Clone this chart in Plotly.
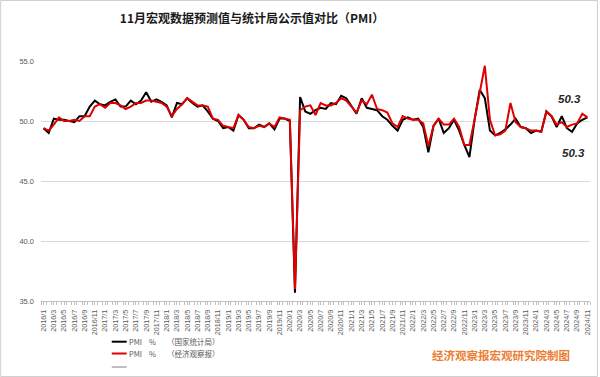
import plotly.graph_objects as go

# ---- data ----
months = [f"{y}/{m}" for y in range(2016, 2025) for m in range(1, 13)][:107]

pmi_nbs = [
    49.4, 49.0, 50.2, 50.1, 50.1, 50.0, 49.9, 50.4, 50.4, 51.2, 51.7, 51.4,
    51.3, 51.6, 51.8, 51.2, 51.2, 51.7, 51.4, 51.7, 52.4, 51.6, 51.8, 51.6,
    51.3, 50.3, 51.5, 51.4, 51.9, 51.5, 51.2, 51.3, 50.8, 50.2, 50.0, 49.4,
    49.5, 49.2, 50.5, 50.1, 49.4, 49.4, 49.7, 49.5, 49.8, 49.3, 50.2, 50.2,
    50.0, 35.7, 52.0, 50.8, 50.6, 50.9, 51.1, 51.0, 51.5, 51.4, 52.1, 51.9,
    51.3, 50.6, 51.9, 51.1, 51.0, 50.9, 50.4, 50.1, 49.6, 49.2, 50.1, 50.3,
    50.1, 50.2, 49.5, 47.4, 49.6, 50.2, 49.0, 49.4, 50.1, 49.2, 48.0, 47.0,
    50.1, 52.6, 51.9, 49.2, 48.8, 49.0, 49.3, 49.7, 50.2, 49.5, 49.4, 49.0,
    49.2, 49.1, 50.8, 50.4, 49.5, 50.4, 49.4, 49.1, 49.8, 50.1, 50.3,
]

pmi_eeo = [
    49.4, 49.2, 49.7, 50.3, 50.0, 50.0, 50.1, 50.0, 50.4, 50.4, 51.2, 51.4,
    51.1, 51.5, 51.5, 51.3, 51.0, 51.2, 51.5, 51.5, 51.7, 51.7, 51.6, 51.5,
    51.2, 50.4, 51.0, 51.4, 51.9, 51.6, 51.3, 51.3, 51.2, 50.2, 50.1, 49.6,
    49.5, 49.4, 50.5, 50.1, 49.5, 49.4, 49.6, 49.5, 49.8, 49.5, 50.3, 50.2,
    50.1, 36.0, 50.9, 51.2, 51.3, 50.5, 51.5, 51.3, 51.3, 51.5, 51.9, 51.7,
    51.2, 50.7, 51.7, 51.4, 52.2, 51.0, 50.9, 50.7, 49.8, 49.5, 50.4, 50.2,
    50.1, 50.1, 49.8, 47.9, 49.6, 50.2, 49.7, 49.7, 50.2, 49.5, 48.0, 48.0,
    50.1, 52.4, 54.6, 50.1, 48.8, 48.9, 49.2, 51.5, 49.9, 49.5, 49.4, 49.2,
    49.2, 49.1, 50.8, 50.4, 49.7, 49.9, 49.5, 49.7, 49.8, 50.6, 50.3,
]

tick_idx = list(range(0, len(months), 2))
tick_labels = months[::2]
y_ticks = [35, 40, 45, 50, 55]

title_text = "11月宏观数据预测值与统计局公示值对比（PMI）"
legend_names = ["（国家统计局）", "（经济观察报）"]
credit = "经济观察报宏观研究院制图"

# ---- layout helpers ----
W, H = 600, 377
ML, MR, MT, MB = 41, 8, 61, 76
PW, PH = W - ML - MR, H - MT - MB


def px2x(px):
    return (px - ML) / PW


def py2y(py):
    return (H - MB - py) / PH


x_idx = list(range(len(months)))

fig = go.Figure()
fig.add_trace(go.Scatter(x=x_idx, y=pmi_nbs, mode="lines",
                         line=dict(color="#000000", width=2),
                         text=months, showlegend=False))
fig.add_trace(go.Scatter(x=x_idx, y=pmi_eeo, mode="lines",
                         line=dict(color="#E00000", width=2),
                         text=months, showlegend=False))

gray = "#595959"
fig.update_layout(
    width=W, height=H,
    margin=dict(l=ML, r=MR, t=MT, b=MB),
    paper_bgcolor="white", plot_bgcolor="white",
    title=dict(text="<b>" + title_text + "</b>", x=252 / W, xanchor="center",
               xref="container", y=1 - 19 / H, yanchor="middle", yref="container",
               font=dict(family="Noto Sans CJK SC", size=12, color="#1a1a1a")),
    xaxis=dict(range=[-0.5, len(months) - 0.5], tickvals=tick_idx, ticktext=tick_labels,
               tickangle=-90, tickfont=dict(family="Liberation Sans", size=7.2, color=gray),
               showgrid=False, zeroline=False, showline=True, linecolor="#BFBFBF", linewidth=1,
               ticks="outside", ticklen=3, tickcolor="#BFBFBF", ticklabelstandoff=2,
               minor=dict(tick0=0.5, dtick=1, ticks="outside", ticklen=3, tickcolor="#BFBFBF", showgrid=False)),
    yaxis=dict(range=[35, 55], tickvals=y_ticks, tickformat=".1f",
               tickfont=dict(family="Liberation Sans", size=7.5, color=gray),
               showgrid=True, gridcolor="#D9D9D9", gridwidth=1, zeroline=False, showline=False,
               ticklabelstandoff=6),
)

# end-point value labels
last = len(months) - 1
fig.add_annotation(x=last, y=pmi_eeo[-1], xref="x", yref="y", text=f"<b><i>{pmi_eeo[-1]:.1f}</i></b>",
                   showarrow=False, xshift=-18, yshift=18,
                   font=dict(family="Liberation Sans", size=11.5, color="#262626"))
fig.add_annotation(x=last, y=pmi_nbs[-1], xref="x", yref="y", text=f"<b><i>{pmi_nbs[-1]:.1f}</i></b>",
                   showarrow=False, xshift=-14, yshift=-36,
                   font=dict(family="Liberation Sans", size=11.5, color="#262626"))

# custom legend
leg = [("#000000", 341.7, legend_names[0]), ("#E00000", 353.5, legend_names[1]), ("#BFBFBF", 367, None)]
for color, py, name in leg:
    fig.add_shape(type="line", xref="paper", yref="paper",
                  x0=px2x(112), x1=px2x(127), y0=py2y(py), y1=py2y(py),
                  line=dict(color=color, width=2))
    if name:
        for txt, px in (("PMI", 127.5), ("%", 147.5), (name, 165)):
            fig.add_annotation(x=px2x(px), y=py2y(py), xref="paper", yref="paper", text=txt,
                               showarrow=False, xanchor="left", yanchor="middle",
                               font=dict(family="Noto Sans CJK SC", size=7.5, color=gray))

# credit text
fig.add_annotation(x=px2x(502.5), y=py2y(355), xref="paper", yref="paper", text="<b>" + credit + "</b>",
                   showarrow=False, xanchor="center", yanchor="middle",
                   font=dict(family="Noto Sans CJK SC", size=11.5, color="#ED7D31"))

# figure border
fig.add_shape(type="rect", xref="paper", yref="paper",
              x0=px2x(0.5), x1=px2x(599.5), y0=py2y(376.5), y1=py2y(0.5),
              line=dict(color="#D0D0D0", width=1), fillcolor="rgba(0,0,0,0)", layer="below")

fig.write_html("out.html", config={"displayModeBar": False},
               post_script="document.body.style.margin='0';document.body.style.overflow='hidden';")
